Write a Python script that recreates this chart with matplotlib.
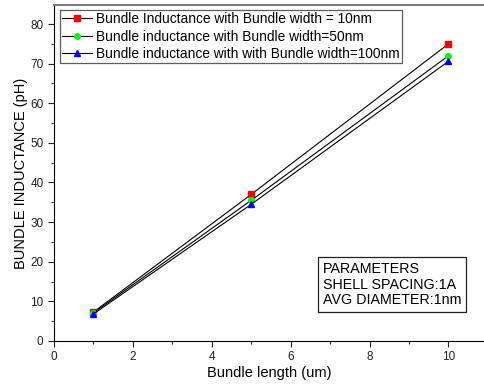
import numpy as np
import matplotlib.pyplot as plt
from matplotlib.ticker import MultipleLocator

plt.rcParams['font.family'] = ['Liberation Sans', 'DejaVu Sans']

length = [1, 5, 10]
ind_10nm = [7.3, 37.0, 75.0]
ind_50nm = [7.1, 35.5, 72.0]
ind_100nm = [6.8, 34.5, 70.6]

labels = ['Bundle Inductance with Bundle width = 10nm',
          'Bundle inductance with Bundle width=50nm',
          'Bundle inductance with with Bundle width=100nm']

fig = plt.figure(figsize=(4.84, 3.87), dpi=100)
ax = fig.add_axes([0.1116, 0.119, 0.8884, 0.868])

ax.plot(length, ind_10nm, color='black', lw=0.8, marker='s', ms=4,
        mfc='red', mec='red', label=labels[0])
ax.plot(length, ind_50nm, color='black', lw=0.8, marker='o', ms=4,
        mfc='#00ff00', mec='#00ff00', label=labels[1])
ax.plot(length, ind_100nm, color='black', lw=0.8, marker='^', ms=5,
        mfc='blue', mec='blue', label=labels[2])

ax.set_xlim(0, 10.9)
ax.set_ylim(0, 84.8)
ax.xaxis.set_major_locator(MultipleLocator(2))
ax.xaxis.set_minor_locator(MultipleLocator(1))
ax.yaxis.set_major_locator(MultipleLocator(10))
ax.yaxis.set_minor_locator(MultipleLocator(5))
ax.tick_params(which='major', direction='out', length=4, labelsize=8.5, colors='#222222')
ax.tick_params(which='minor', direction='out', length=2.5)

ax.spines['right'].set_visible(False)
ax.spines['top'].set_color('#808080')
ax.spines['top'].set_linewidth(1.5)

ax.set_xlabel('Bundle length (um)', fontsize=10.5, labelpad=2)
ax.set_ylabel('BUNDLE INDUCTANCE (pH)', fontsize=10.5, labelpad=2)

leg = ax.legend(loc='upper left', bbox_to_anchor=(0.014, 0.985), fontsize=9.9,
                frameon=True, fancybox=False, edgecolor='#333333',
                borderpad=0.15, labelspacing=0.25, handlelength=2.2,
                handletextpad=0.3, borderaxespad=0)
leg.get_frame().set_linewidth(0.9)

ax.text(0.625, 0.10, 'PARAMETERS\nSHELL SPACING:1A\nAVG DIAMETER:1nm',
        transform=ax.transAxes, fontsize=10.3, va='bottom', ha='left',
        linespacing=1.15,
        bbox=dict(boxstyle='square,pad=0.35', fc='white', ec='#222222', lw=0.9))

fig.savefig('out.png', dpi=100)
